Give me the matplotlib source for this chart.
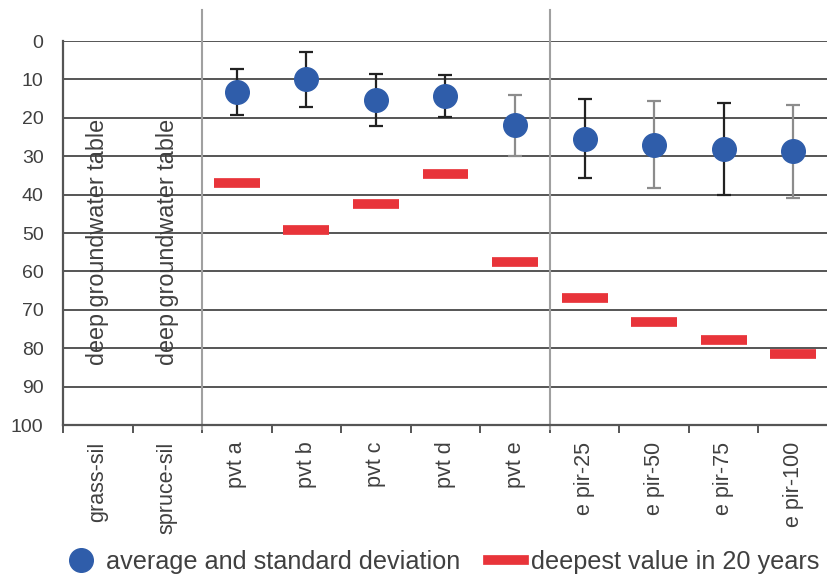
import matplotlib
matplotlib.use("Agg")
import matplotlib.pyplot as plt
from matplotlib.lines import Line2D

plt.rcParams['font.family'] = ['Liberation Sans', 'DejaVu Sans']

# data (depth, cm)
sites = ["grass-sil", "spruce-sil", "pvt a", "pvt b", "pvt c", "pvt d", "pvt e",
         "e pir-25", "e pir-50", "e pir-75", "e pir-100"]
mean_depth = [None, None, 13.3, 10.0, 15.4, 14.3, 22.0, 25.4, 27.0, 28.1, 28.7]
sd_depth = [None, None, 6.0, 7.2, 6.7, 5.5, 7.9, 10.3, 11.3, 12.0, 12.1]
deepest = [None, None, 37.1, 49.2, 42.5, 34.7, 57.6, 66.8, 73.1, 77.9, 81.4]
# error bar colour in the original alternates black / grey
err_dark = [None, None, True, True, True, True, False, True, False, True, False]
no_data_text = "deep groundwater table"
separators = [1.5, 6.5]

blue = "#2F5DAA"
red = "#E8343A"
txt = "#404040"

fig = plt.figure(figsize=(8.28, 5.77), dpi=100)
ax = fig.add_axes([63 / 828, 1 - 425 / 577, 1 - 63 / 828, (425 - 41) / 577])

xs = range(len(sites))
for x, m, s, d, dark in zip(xs, mean_depth, sd_depth, deepest, err_dark):
    if m is None:
        ax.text(x, 52.3, no_data_text, rotation=90, ha="center", va="center",
                fontsize=16.8, color=txt)
        continue
    ax.errorbar(x, m, yerr=s, fmt="none", ecolor="#222222" if dark else "#8c8c8c",
                elinewidth=1.6, capsize=4.8, capthick=1.6, zorder=3)
    ax.plot(x, m, "o", color=blue, markersize=17, zorder=4)
    ax.hlines(d, x - 0.33, x + 0.33, color=red, linewidth=7, zorder=3)

# group separators
for sx in separators:
    ax.plot([sx, sx], [-8, 101], color="#a0a0a0", linewidth=1.5,
            clip_on=False, zorder=2)

ax.set_xlim(-0.5, len(sites) - 0.5)
ax.set_ylim(100, 0)
ax.set_yticks(range(0, 101, 10))
ax.yaxis.grid(True, color="#555555", linewidth=1.4)
ax.set_axisbelow(True)
ax.tick_params(axis="y", length=0, pad=14, labelsize=14, labelcolor=txt)

ax.set_xticks(list(xs))
ax.set_xticklabels(sites, rotation=90, va="top", ha="center")
ax.set_xticks([i - 0.5 for i in range(len(sites) + 1)], minor=True)
ax.tick_params(axis="x", which="major", length=0, pad=12, labelsize=15.5, labelcolor=txt)
ax.tick_params(axis="x", which="minor", length=6, width=1.4, color="#555555")

for side in ["top", "right"]:
    ax.spines[side].set_visible(False)
ax.spines["left"].set_color("#555555")
ax.spines["left"].set_linewidth(1.6)
ax.spines["bottom"].set_color("#555555")
ax.spines["bottom"].set_linewidth(1.6)

handles = [Line2D([], [], marker="o", linestyle="none", color=blue, markersize=17),
           Line2D([], [], color=red, linewidth=7)]
labels = ["average and standard deviation", "deepest value in 20 years"]
fig.legend(handles, labels, loc="center", bbox_to_anchor=(0.533, 1 - 562 / 577),
           ncol=2, frameon=False, fontsize=18.2, handlelength=1.4, handletextpad=0.3,
           columnspacing=1.1, labelcolor=txt)

fig.savefig("out.png", dpi=100)
